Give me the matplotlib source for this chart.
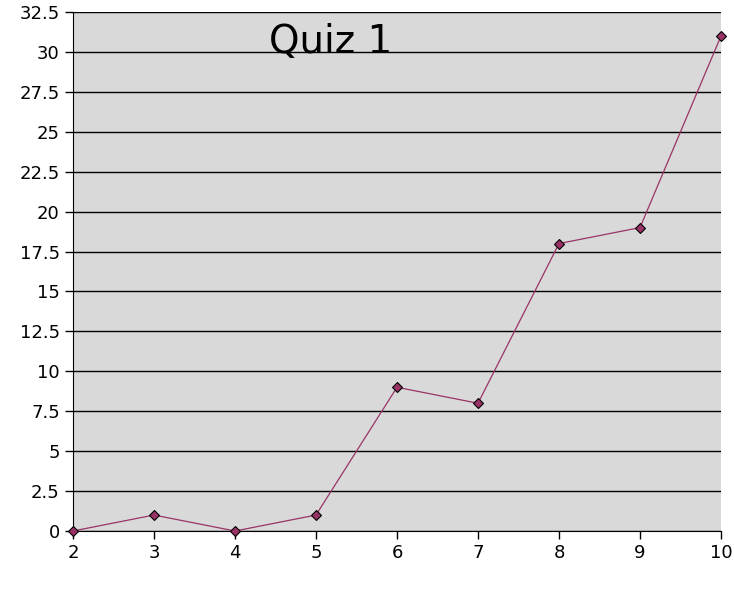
import matplotlib
matplotlib.use("Agg")
import matplotlib.pyplot as plt
import numpy as np

# 퀴즈 번호별 값
quiz = [2, 3, 4, 5, 6, 7, 8, 9, 10]
score = [0, 1, 0, 1, 9, 8, 18, 19, 31]
yticks = np.arange(0, 32.6, 2.5)
ylabels = ["0", "2.5", "5", "7.5", "10", "12.5", "15", "17.5", "20",
           "22.5", "25", "27.5", "30", "32.5"]

W, H = 734, 610
fig = plt.figure(figsize=(W / 100, H / 100), dpi=100)
ax = fig.add_axes([73 / W, (H - 531) / H, (721 - 73) / W, (531 - 12) / H])
ax.set_facecolor("#d9d9d9")

ax.plot(quiz, score, "-", color="#993366", lw=0.9, marker="D", ms=5.5,
        mfc="#993366", mec="black", mew=0.8, clip_on=False, zorder=3)

ax.set_xlim(2, 10)
ax.set_ylim(0, 32.5)
ax.set_xticks(quiz)
ax.set_yticks(yticks)
ax.set_yticklabels(ylabels)
ax.grid(axis="y", color="black", lw=1)
ax.set_axisbelow(True)
for s in ("top", "right"):
    ax.spines[s].set_visible(False)
ax.tick_params(labelsize=13, length=6, width=1, direction="out")

ax.text(0.397, 0.943, "Quiz 1", transform=ax.transAxes, ha="center",
        va="center", fontsize=28)

fig.savefig("out.png", dpi=100)
